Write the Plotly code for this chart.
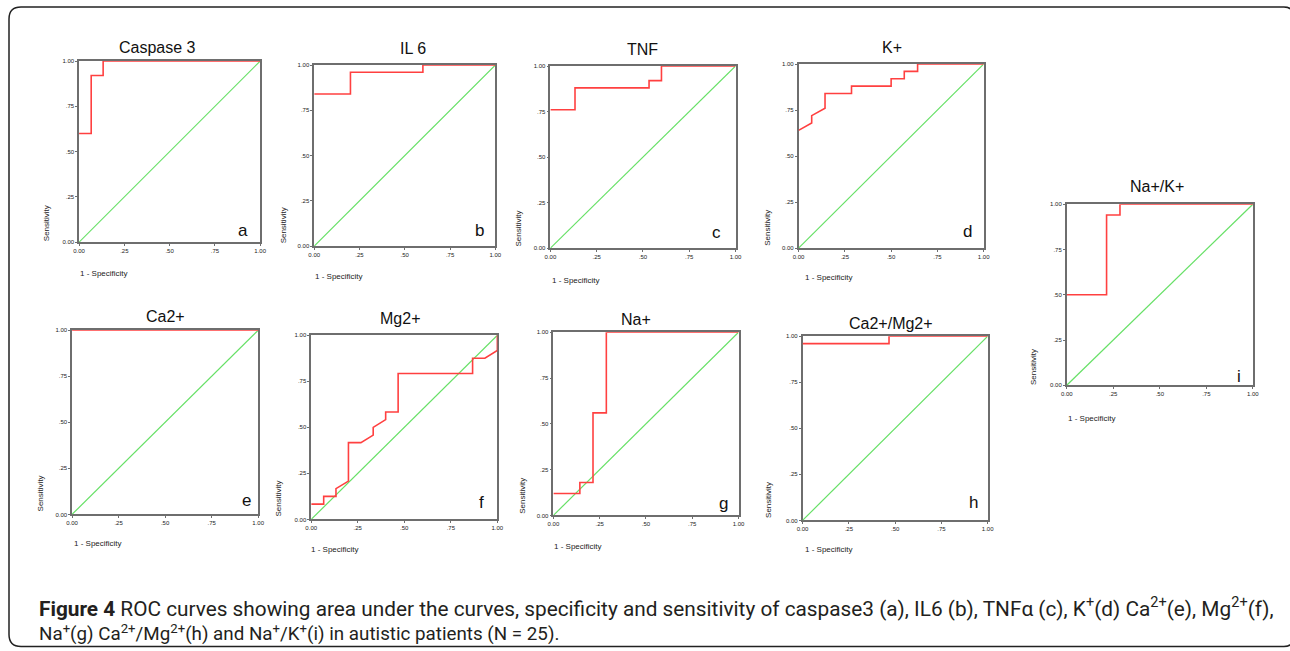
import re
import plotly.graph_objects as go

W, H = 1290, 651

# ---------------- data (1 - specificity, sensitivity) ----------------
casp_fpr = [0, 0.067, 0.067, 0.133, 0.133, 1]
casp_tpr = [0.60, 0.60, 0.92, 0.92, 1.00, 1.00]

il6_fpr = [0, 0.2, 0.2, 0.6, 0.6, 1]
il6_tpr = [0.84, 0.84, 0.96, 0.96, 1.00, 1.00]

tnf_fpr = [0, 0.133, 0.133, 0.533, 0.533, 0.6, 0.6, 1]
tnf_tpr = [0.76, 0.76, 0.88, 0.88, 0.92, 0.92, 1.00, 1.00]

k_fpr = [0, 0.071, 0.071, 0.143, 0.143, 0.286, 0.286, 0.5, 0.5, 0.571, 0.571, 0.643, 0.643, 1]
k_tpr = [0.64, 0.68, 0.72, 0.76, 0.84, 0.84, 0.88, 0.88, 0.92, 0.92, 0.96, 0.96, 1.00, 1.00]

ca_fpr = [0, 1]
ca_tpr = [1.00, 1.00]

mg_fpr = [0, 0.067, 0.067, 0.133, 0.133, 0.2, 0.2, 0.267, 0.333, 0.333, 0.4, 0.4,
          0.467, 0.467, 0.867, 0.867, 0.933, 1, 1]
mg_tpr = [0.083, 0.083, 0.125, 0.125, 0.167, 0.208, 0.417, 0.417, 0.458, 0.5, 0.542, 0.583,
          0.583, 0.792, 0.792, 0.875, 0.875, 0.917, 1.00]

na_fpr = [0, 0.143, 0.143, 0.214, 0.214, 0.286, 0.286, 1]
na_tpr = [0.12, 0.12, 0.18, 0.18, 0.56, 0.56, 1.00, 1.00]

camg_fpr = [0, 0.467, 0.467, 1]
camg_tpr = [0.96, 0.96, 1.00, 1.00]

nak_fpr = [0, 0.214, 0.214, 0.286, 0.286, 1]
nak_tpr = [0.50, 0.50, 0.94, 0.94, 1.00, 1.00]

ref_line = [0, 1]

tick_vals = [0, 0.25, 0.5, 0.75, 1]
tick_text = ["0.00", ".25", ".50", ".75", "1.00"]

titles = ["Caspase 3", "IL 6", "TNF", "K+", "Ca2+", "Mg2+", "Na+", "Ca2+/Mg2+", "Na+/K+"]
letters = ["a", "b", "c", "d", "e", "f", "g", "h", "i"]
curves_x = [casp_fpr, il6_fpr, tnf_fpr, k_fpr, ca_fpr, mg_fpr, na_fpr, camg_fpr, nak_fpr]
curves_y = [casp_tpr, il6_tpr, tnf_tpr, k_tpr, ca_tpr, mg_tpr, na_tpr, camg_tpr, nak_tpr]

caption_line1 = ("<b>Figure 4</b> ROC curves showing area under the curves, specificity and sensitivity of "
                 "caspase3 (a), IL6 (b), TNFα (c), K<sup>+</sup>(d) Ca<sup>2+</sup>(e), Mg<sup>2+</sup>(f),")
caption_line2 = ("Na<sup>+</sup>(g) Ca<sup>2+</sup>/Mg<sup>2+</sup>(h) and Na<sup>+</sup>/K<sup>+</sup>(i) "
                 "in autistic patients (N = 25).")

# ---------------- layout geometry (pixels of the target picture) ----------------
# plot box: left, right, top, bottom
boxes = [
    (79, 260, 61, 242), (314, 495, 65, 246), (550, 735, 66, 248), (798, 983, 64, 248),
    (72, 258, 330, 514), (311, 497, 335, 519), (553, 738, 332, 515), (802, 987, 336, 520),
    (1066, 1252, 204, 385),
]
title_pos = [(157, 47), (413, 48), (642, 49), (891, 47), (165, 316), (400, 318),
             (636, 319), (890, 323), (1156, 186)]
letter_pos = [(243, 230), (479, 230), (716, 232), (967, 231), (246, 500), (481, 502),
              (723, 503), (973, 502), (1238, 376)]
sens_pos = [(46, 223), (283, 225), (518, 228), (767, 228), (40, 493), (278, 498),
            (522, 495), (768, 500), (1033, 367)]
spec_pos = [(78, 273), (313, 276), (550, 280), (802, 277), (72, 543), (309, 549),
            (552, 546), (802, 549), (1065, 418)]

FONT = "Arial, Liberation Sans, sans-serif"
RED = "#ff4040"
GREEN = "#66e066"
AX = "#6e6e6e"

# the page is photographed slightly shrunk & centred: compensate
K_SCALE, OFF_X, OFF_Y = 0.99, 6.0, 3.0


def px(x):
    return ((x - OFF_X) / K_SCALE) / W


def py(y):
    return 1 - ((y - OFF_Y) / K_SCALE) / H


fig = go.Figure()
annotations = []
layout = {}

for i in range(9):
    n = i + 1
    xa = "x" if n == 1 else f"x{n}"
    ya = "y" if n == 1 else f"y{n}"
    l, r, t, b = boxes[i]
    fig.add_trace(go.Scatter(x=ref_line, y=ref_line, mode="lines",
                             line=dict(color=GREEN, width=1.2),
                             xaxis=xa, yaxis=ya, showlegend=False, hoverinfo="skip"))
    fig.add_trace(go.Scatter(x=curves_x[i], y=curves_y[i], mode="lines",
                             line=dict(color=RED, width=1.6),
                             xaxis=xa, yaxis=ya, showlegend=False))
    common = dict(range=[0, 1], tickvals=tick_vals, ticktext=tick_text,
                  showgrid=False, zeroline=False, showline=True, mirror=True,
                  linecolor=AX, linewidth=1.5, ticks="outside", ticklen=2,
                  tickcolor=AX, tickwidth=1,
                  tickfont=dict(family=FONT, size=6, color="#222"),
                  layer="below traces", fixedrange=True)
    xkey = "xaxis" if n == 1 else f"xaxis{n}"
    ykey = "yaxis" if n == 1 else f"yaxis{n}"
    layout[xkey] = dict(common, domain=[px(l), px(r)], anchor=ya)
    layout[ykey] = dict(common, domain=[py(b), py(t)], anchor=xa)

    tx, ty = title_pos[i]
    annotations.append(dict(text=titles[i], x=px(tx), y=py(ty), xref="paper", yref="paper",
                            showarrow=False, xanchor="center", yanchor="middle",
                            font=dict(family=FONT, size=16, color="#111")))
    lx, ly = letter_pos[i]
    annotations.append(dict(text=letters[i], x=px(lx), y=py(ly), xref="paper", yref="paper",
                            showarrow=False, xanchor="center", yanchor="middle",
                            font=dict(family=FONT, size=17, color="#111")))
    sx, sy = sens_pos[i]
    annotations.append(dict(text="Sensitivity", x=px(sx), y=py(sy), xref="paper", yref="paper",
                            showarrow=False, xanchor="center", yanchor="middle", textangle=-90,
                            font=dict(family=FONT, size=8, color="#222")))
    qx, qy = spec_pos[i]
    annotations.append(dict(text="1 - Specificity", x=px(qx), y=py(qy), xref="paper", yref="paper",
                            showarrow=False, xanchor="left", yanchor="middle",
                            font=dict(family=FONT, size=8, color="#222")))

caption = (f"<span style='font-size:20.8px'>{caption_line1}</span>"
           f"<br><span style='font-size:18.8px'>{caption_line2}</span>")
annotations.append(dict(
    text=caption, x=px(37), y=py(619), xref="paper", yref="paper", showarrow=False,
    xanchor="left", yanchor="middle", align="left",
    font=dict(family="Roboto, Arial, sans-serif", size=19, color="#231f20")))

# rounded frame around the figure (open on the right)
frame_px = ("M 1292,15 Q 1292,7 1283,7 L 21,7 Q 9,7 9,19 L 9,634 Q 9,646 21,646 "
            "L 1283,646 Q 1292,646 1292,638")
out = []
for tk in re.findall(r"[MLQZ]|-?\d+\.?\d*,-?\d+\.?\d*", frame_px):
    if tk in "MLQZ":
        out.append(tk)
    else:
        a, c = tk.split(",")
        out.append(f"{px(float(a)):.5f},{py(float(c)):.5f}")
frame_paper = " ".join(out)

fig.update_layout(
    width=W, height=H,
    margin=dict(l=0, r=0, t=0, b=0),
    paper_bgcolor="white", plot_bgcolor="white",
    annotations=annotations,
    shapes=[dict(type="path", path=frame_paper, xref="paper", yref="paper",
                 line=dict(color="#222", width=1.5), layer="below")],
    **layout,
)

fig.write_html("out.html",
               post_script="document.body.style.margin='0';document.body.style.overflow='hidden';",
               config={"displayModeBar": False})
